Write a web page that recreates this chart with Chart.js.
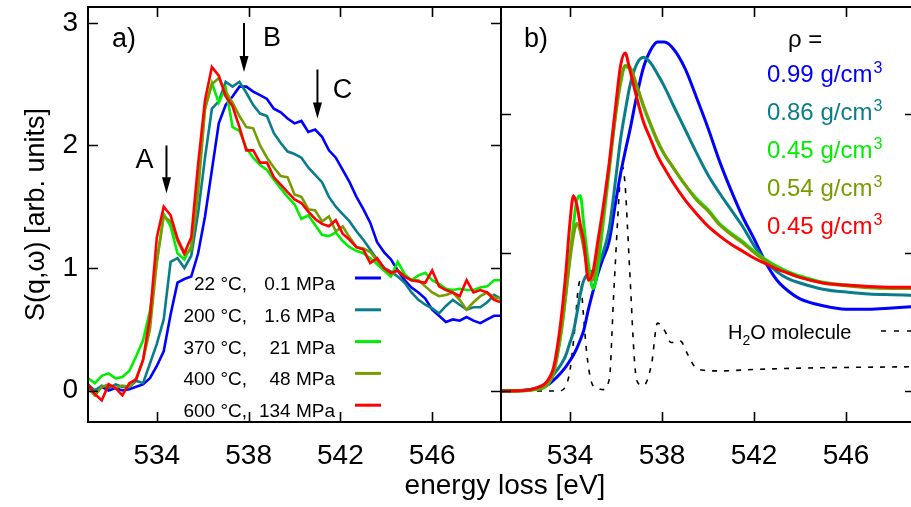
<!DOCTYPE html>
<html>
<head>
<meta charset="utf-8">
<script src="https://cdn.jsdelivr.net/npm/chart.js@4.4.1/dist/chart.umd.min.js"></script>
<style>
  html, body { margin: 0; padding: 0; background: #fff; overflow: hidden; }
  #wrap { position: relative; width: 911px; height: 507px; overflow: hidden; }
  #chartA { position: absolute; left: 0; top: 0; width: 911px; height: 507px; }
  #chartB { position: absolute; left: 501px; top: 0; width: 414px; height: 507px; }
</style>
</head>
<body>
<div id="wrap">
  <canvas id="chartA" width="911" height="507"></canvas>
  <canvas id="chartB" width="414" height="507"></canvas>
</div>
<script>
// 1. a) 측정 스펙트럼 (에너지 손실, eV)
const energyA = [
    531.0, 531.3, 531.6, 531.9, 532.2, 532.5, 532.8, 533.1, 533.4, 533.7,
    534.0, 534.3, 534.6, 534.9, 535.2, 535.5, 535.8, 536.1, 536.4, 536.7,
    537.0, 537.3, 537.6, 537.9, 538.2, 538.5, 538.8, 539.1, 539.4, 539.7,
    540.0, 540.3, 540.6, 540.9, 541.2, 541.5, 541.8, 542.1, 542.4, 542.7,
    543.0, 543.3, 543.6, 543.9, 544.2, 544.5, 544.8, 545.1, 545.4, 545.7,
    546.0, 546.3, 546.6, 546.9, 547.2, 547.5, 547.8, 548.1, 548.4, 548.7,
    549.0
];
const meas22 = [
    0.02, 0.00, 0.03, 0.00, 0.02, 0.00, 0.01, 0.03, 0.05, 0.10,
    0.20, 0.32, 0.62, 0.88, 0.91, 0.93, 1.12, 1.42, 1.80, 2.18,
    2.33, 2.40, 2.48, 2.48, 2.44, 2.41, 2.38, 2.30, 2.27, 2.22,
    2.18, 2.20, 2.11, 2.13, 2.07, 1.96, 1.90, 1.80, 1.70, 1.58,
    1.48, 1.37, 1.21, 1.13, 1.07, 0.98, 0.90, 0.84, 0.80, 0.75,
    0.66, 0.61, 0.56, 0.58, 0.57, 0.60, 0.57, 0.55, 0.58, 0.61,
    0.61
];
const meas200 = [
    0.05, 0.00, 0.04, 0.02, 0.05, 0.03, 0.03, 0.08, 0.06, 0.22,
    0.38, 0.58, 1.05, 1.08, 1.00, 1.10, 1.45, 1.90, 2.30, 2.36,
    2.52, 2.48, 2.52, 2.43, 2.33, 2.26, 2.24, 2.10, 2.02, 1.95,
    1.93, 1.90, 1.82, 1.76, 1.70, 1.58, 1.50, 1.44, 1.38, 1.30,
    1.23, 1.15, 1.07, 1.00, 0.97, 0.93, 0.88, 0.80, 0.74, 0.70,
    0.67, 0.63, 0.69, 0.74, 0.70, 0.66, 0.68, 0.68, 0.72, 0.78,
    0.75
];
const meas370 = [
    0.10, 0.06, 0.12, 0.14, 0.10, 0.11, 0.16, 0.28, 0.41, 0.65,
    1.05, 1.44, 1.34, 1.12, 1.07, 1.18, 1.70, 2.30, 2.51, 2.35,
    2.47, 2.15, 2.12, 1.98, 1.90, 1.84, 1.80, 1.72, 1.65, 1.58,
    1.52, 1.40, 1.43, 1.35, 1.27, 1.26, 1.29, 1.22, 1.17, 1.14,
    1.12, 1.08, 1.03, 0.98, 0.93, 1.05, 0.95, 0.90, 0.94, 0.96,
    0.90, 0.87, 0.83, 0.82, 0.83, 0.82, 0.82, 0.84, 0.85, 0.90,
    0.90
];
const meas400 = [
    0.02, -0.04, 0.03, 0.05, 0.02, 0.04, 0.03, 0.10, 0.25, 0.50,
    1.05, 1.42, 1.38, 1.22, 1.11, 1.15, 1.62, 2.30, 2.50, 2.55,
    2.44, 2.35, 2.24, 2.15, 2.14, 2.00, 1.90, 1.82, 1.75, 1.74,
    1.60, 1.58, 1.48, 1.47, 1.38, 1.42, 1.30, 1.34, 1.25, 1.17,
    1.16, 1.13, 1.06, 1.00, 0.95, 0.98, 0.93, 0.90, 0.90, 0.85,
    0.80, 0.77, 0.78, 0.80, 0.74, 0.66, 0.72, 0.77, 0.80, 0.76,
    0.75
];
const meas600 = [
    0.05, -0.03, -0.08, 0.05, 0.02, -0.04, 0.06, 0.09, 0.25, 0.60,
    1.25, 1.50, 1.43, 1.24, 1.12, 1.25, 1.85, 2.37, 2.64, 2.57,
    2.40, 2.32, 2.15, 1.96, 1.96, 1.86, 1.86, 1.74, 1.68, 1.62,
    1.56, 1.53, 1.46, 1.40, 1.36, 1.34, 1.39, 1.28, 1.23, 1.17,
    1.15, 1.04, 1.08, 1.00, 0.96, 0.98, 0.93, 0.90, 0.89, 0.88,
    0.98, 0.85, 0.82, 0.80, 0.77, 0.90, 0.80, 0.82, 0.80, 0.74,
    0.72
];
const tempLabels = ["22 °C,", "200 °C,", "370 °C,", "400 °C,", "600 °C,"];
const pressureLabels = ["0.1 MPa", "1.6 MPa", "21 MPa", "48 MPa", "134 MPa"];

// 2. b) 계산 스펙트럼
const energyB = [
    531.0, 532.0, 532.5, 533.0, 533.3, 533.6, 533.8, 534.0, 534.15, 534.3,
    534.45, 534.6, 534.8, 535.0, 535.2, 535.4, 535.7, 536.0, 536.2, 536.4,
    536.6, 536.9, 537.2, 537.5, 537.8, 538.1, 538.5, 539.0, 539.5, 540.0,
    540.5, 541.0, 541.5, 542.0, 542.5, 543.0, 543.5, 544.0, 545.0, 546.0,
    547.0, 548.0, 549.0
];
const calc099 = [
    0, 0.005, 0.015, 0.04, 0.08, 0.13, 0.17, 0.22, 0.26, 0.31,
    0.37, 0.44, 0.59, 0.72, 0.84, 0.94, 1.08, 1.38, 1.57, 1.73,
    1.88, 2.13, 2.34, 2.46, 2.52, 2.52, 2.47, 2.33, 2.12, 1.90,
    1.66, 1.45, 1.26, 1.10, 0.93, 0.80, 0.72, 0.665, 0.615, 0.59,
    0.59, 0.60, 0.61
];
const calc086 = [
    0, 0.005, 0.02, 0.06, 0.12, 0.19, 0.25, 0.35, 0.43, 0.56,
    0.70, 0.80, 0.85, 0.87, 0.91, 0.98, 1.17, 1.55, 1.82, 2.02,
    2.20, 2.36, 2.41, 2.37, 2.29, 2.20, 2.06, 1.89, 1.72, 1.56,
    1.43, 1.31, 1.19, 1.05, 0.94, 0.86, 0.81, 0.78, 0.735, 0.715,
    0.70, 0.695, 0.69
];
const calc045g = [
    0, 0.002, 0.01, 0.04, 0.14, 0.40, 0.66, 0.98, 1.20, 1.38,
    1.41, 1.20, 0.92, 0.74, 0.87, 1.15, 1.58, 2.01, 2.22, 2.34,
    2.33, 2.20, 2.05, 1.92, 1.80, 1.71, 1.61, 1.49, 1.39, 1.31,
    1.21, 1.14, 1.08, 1.01, 0.95, 0.90, 0.86, 0.83, 0.785, 0.765,
    0.75, 0.745, 0.74
];
const calc054 = [
    0, 0.002, 0.012, 0.045, 0.14, 0.42, 0.68, 0.95, 1.12, 1.21,
    1.15, 1.03, 0.85, 0.80, 0.96, 1.22, 1.62, 2.02, 2.24, 2.35,
    2.34, 2.21, 2.06, 1.93, 1.81, 1.71, 1.61, 1.49, 1.38, 1.30,
    1.20, 1.13, 1.07, 1.00, 0.94, 0.89, 0.85, 0.82, 0.78, 0.76,
    0.745, 0.74, 0.74
];
const calc045r = [
    0, 0.003, 0.02, 0.07, 0.18, 0.50, 0.82, 1.22, 1.41, 1.34,
    1.20, 1.08, 0.80, 0.86, 1.07, 1.28, 1.64, 2.08, 2.35, 2.44,
    2.32, 2.12, 1.94, 1.82, 1.70, 1.61, 1.50, 1.38, 1.28, 1.19,
    1.12, 1.06, 1.01, 0.96, 0.92, 0.88, 0.85, 0.82, 0.78, 0.765,
    0.755, 0.75, 0.75
];
const energyH2O = [
    531.0, 533.5, 533.8, 534.0, 534.2, 534.35, 534.45, 534.57, 534.73, 534.94,
    535.2, 535.45, 535.65, 535.75, 535.82, 535.9, 535.98, 536.06, 536.16, 536.28,
    536.4, 536.5, 536.58, 536.66, 536.74, 536.85, 537.0, 537.2, 537.55, 537.8,
    538.1, 538.4, 538.8, 539.1, 539.4, 539.8, 540.5, 542.0, 544.0, 546.0,
    549.0
];
const h2oMolecule = [
    0, 0, 0.03, 0.15, 0.44, 0.73, 0.80, 0.58, 0.27, 0.06,
    0.02, 0.01, 0.05, 0.15, 0.40, 0.70, 0.95, 1.20, 1.48, 1.62,
    1.48, 1.18, 0.92, 0.66, 0.39, 0.13, 0.05, 0.04, 0.20, 0.49,
    0.44, 0.35, 0.36, 0.27, 0.18, 0.15, 0.145, 0.155, 0.165, 0.17,
    0.175
];
const densityLabels = ["0.99", "0.86", "0.45", "0.54", "0.45"];

// 3. 눈금
const xTicks = [534, 538, 542, 546];
const yTicksA = [0, 1, 2, 3];
const yTicksB = [0, 1, 2];

const colors = ["#0000ff", "#0a7d8c", "#00ee00", "#789c00", "#ff0000"];
const FONT = "'Liberation Sans', Arial, sans-serif";
Chart.defaults.font.family = FONT;
Chart.defaults.color = "#000";

// A, B, C 화살표 (에너지, 화살표 위/끝 y값)
const arrowMarks = [
    {label: "A", e: 534.42, from: 2.0, to: 1.61, dx: -22, dy: 15},
    {label: "B", e: 537.8, from: 3.0, to: 2.6, dx: 28, dy: 16},
    {label: "C", e: 541.0, from: 2.62, to: 2.22, dx: 25, dy: 21},
];

function toPoints(xs, ys) { // xs, ys: 배열 --> {x, y} 배열
    return xs.map((x, i) => ({x: x, y: ys[i]}));
}

function lineSet(label, xs, ys, color, order, width) {
    return {
        label: label, data: toPoints(xs, ys),
        borderColor: color, borderWidth: width,
        pointRadius: 0, fill: false, order: order,
    };
}

// 테두리 + 안쪽 눈금
const framePlugin = {
    id: "frame",
    afterDatasetsDraw(chart, args, opts) {
        const {ctx, chartArea: a, scales} = chart;
        ctx.save();
        ctx.strokeStyle = "#000";
        ctx.lineWidth = 2;
        ctx.strokeRect(a.left, a.top, a.right - a.left, a.bottom - a.top);
        ctx.lineWidth = 1.6;
        ctx.beginPath();
        for (const v of xTicks) {
            const px = Math.round(scales.x.getPixelForValue(v)) + 0.5;
            ctx.moveTo(px, a.bottom); ctx.lineTo(px, a.bottom - 10);
            ctx.moveTo(px, a.top); ctx.lineTo(px, a.top + 10);
        }
        for (const v of opts.yTicks) {
            const py = Math.round(scales.y.getPixelForValue(v)) + 0.5;
            ctx.moveTo(a.left, py); ctx.lineTo(a.left + 10, py);
            ctx.moveTo(a.right, py); ctx.lineTo(a.right - 10, py);
        }
        ctx.stroke();
        ctx.restore();
    }
};

function drawArrow(ctx, x, y0, y1) { // 아래 방향 화살표
    ctx.beginPath();
    ctx.moveTo(x, y0); ctx.lineTo(x, y1 - 14);
    ctx.stroke();
    ctx.beginPath();
    ctx.moveTo(x - 4.5, y1 - 16); ctx.lineTo(x + 4.5, y1 - 16); ctx.lineTo(x, y1);
    ctx.closePath();
    ctx.fill();
}

const notesA = {
    id: "notesA",
    afterDatasetsDraw(chart) {
        const {ctx, scales: {x, y}} = chart;
        ctx.save();
        ctx.fillStyle = "#000";
        ctx.strokeStyle = "#000";
        ctx.textBaseline = "middle";
        ctx.font = "27px " + FONT;
        ctx.fillText("a)", 112, 40);
        ctx.lineWidth = 2;
        arrowMarks.forEach(m => {
            const px = x.getPixelForValue(m.e);
            const top = y.getPixelForValue(m.from);
            drawArrow(ctx, px, top, y.getPixelForValue(m.to));
            ctx.textAlign = "center";
            ctx.fillText(m.label, px + m.dx, top + m.dy);
        });
        // 범례
        ctx.font = "19px " + FONT;
        ctx.textBaseline = "alphabetic";
        ctx.textAlign = "right";
        ctx.lineWidth = 3;
        tempLabels.forEach((t, i) => {
            const base = 290 + i * 31.8;
            ctx.fillStyle = "#000";
            ctx.fillText(t, 247, base);
            ctx.fillText(pressureLabels[i], 335, base);
            ctx.strokeStyle = colors[i];
            ctx.beginPath();
            ctx.moveTo(355, base - 12); ctx.lineTo(381, base - 12);
            ctx.stroke();
        });
        // 공통 x축 제목
        ctx.fillStyle = "#000";
        ctx.font = "28px " + FONT;
        ctx.textAlign = "center";
        ctx.textBaseline = "middle";
        ctx.fillText("energy loss [eV]", 505, 486);
        ctx.restore();
    }
};

const notesB = {
    id: "notesB",
    afterDatasetsDraw(chart) {
        const ctx = chart.ctx;
        ctx.save();
        ctx.fillStyle = "#000";
        ctx.textBaseline = "middle";
        ctx.font = "27px " + FONT;
        ctx.fillText("b)", 23, 40);
        ctx.font = "24px " + FONT;
        ctx.fillText("ρ =", 287, 40);
        ctx.textBaseline = "alphabetic";
        densityLabels.forEach((d, i) => {
            const base = 81.5 + i * 38.1;
            ctx.fillStyle = colors[i];
            ctx.font = "24px " + FONT;
            const text = d + " g/cm";
            ctx.fillText(text, 266, base);
            const w = ctx.measureText(text).width;
            ctx.font = "16px " + FONT;
            ctx.fillText("3", 266 + w + 1, base - 9);
        });
        // H2O molecule 범례
        ctx.fillStyle = "#000";
        ctx.font = "20px " + FONT;
        ctx.fillText("H", 227, 339);
        let xx = 227 + ctx.measureText("H").width;
        ctx.font = "14px " + FONT;
        ctx.fillText("2", xx, 345);
        xx += ctx.measureText("2").width;
        ctx.font = "20px " + FONT;
        ctx.fillText("O molecule", xx, 339);
        ctx.strokeStyle = "#000";
        ctx.lineWidth = 1.6;
        ctx.setLineDash([5, 8]);
        ctx.beginPath();
        ctx.moveTo(380, 331); ctx.lineTo(414, 331);
        ctx.stroke();
        ctx.restore();
    }
};

function xScale() {
    return {
        type: "linear", min: 531, max: 549,
        grid: {display: false, drawTicks: false}, border: {display: false},
        afterBuildTicks: s => { s.ticks = xTicks.map(v => ({value: v})); },
        afterFit: s => { s.height = 85; s.paddingLeft = 0; s.paddingRight = 0; },
        ticks: {font: {size: 28}, padding: 17, maxRotation: 0, autoSkip: false},
    };
}

// 4. a) 측정 그래프
new Chart(document.getElementById("chartA"), {
    type: "line",
    data: {
        datasets: [
            lineSet("22 °C, 0.1 MPa", energyA, meas22, colors[0], 4, 2.6),
            lineSet("200 °C, 1.6 MPa", energyA, meas200, colors[1], 3, 2.6),
            lineSet("370 °C, 21 MPa", energyA, meas370, colors[2], 2, 2.6),
            lineSet("400 °C, 48 MPa", energyA, meas400, colors[3], 1, 2.6),
            lineSet("600 °C, 134 MPa", energyA, meas600, colors[4], 0, 2.6),
        ],
    },
    options: {
        responsive: false, animation: false,
        layout: {padding: {top: 7, right: 410, bottom: 0, left: 0}},
        plugins: {legend: {display: false}, tooltip: {enabled: false}, frame: {yTicks: yTicksA}},
        scales: {
            x: xScale(),
            y: {
                type: "linear", min: -0.257, max: 3.13,
                grid: {display: false, drawTicks: false}, border: {display: false},
                afterBuildTicks: s => { s.ticks = yTicksA.map(v => ({value: v})); },
                afterFit: s => { s.width = 88; s.paddingTop = 0; s.paddingBottom = 0; },
                ticks: {font: {size: 28}, padding: 10},
                title: {display: true, text: "S(q,ω) [arb. units]", font: {size: 27}, padding: {top: 20, bottom: 0}},
            },
        },
    },
    plugins: [framePlugin, notesA],
});

// 5. b) 계산 그래프
const smooth = {cubicInterpolationMode: "monotone"};
new Chart(document.getElementById("chartB"), {
    type: "line",
    data: {
        datasets: [
            Object.assign(lineSet("0.99 g/cm3", energyB, calc099, colors[0], 4, 3), smooth),
            Object.assign(lineSet("0.86 g/cm3", energyB, calc086, colors[1], 3, 3), smooth),
            Object.assign(lineSet("0.45 g/cm3", energyB, calc045g, colors[2], 2, 3), smooth),
            Object.assign(lineSet("0.54 g/cm3", energyB, calc054, colors[3], 1, 3), smooth),
            Object.assign(lineSet("0.45 g/cm3", energyB, calc045r, colors[4], 0, 3), smooth),
            Object.assign(lineSet("H2O molecule", energyH2O, h2oMolecule, "#000", 5, 1.6),
                smooth, {borderDash: [5, 7]}),
        ],
    },
    options: {
        responsive: false, animation: false,
        layout: {padding: {top: 7, right: 0, bottom: 0, left: 0}},
        plugins: {legend: {display: false}, tooltip: {enabled: false}, frame: {yTicks: yTicksB}},
        scales: {
            x: xScale(),
            y: {type: "linear", min: -0.224, max: 2.773, display: false},
        },
    },
    plugins: [framePlugin, notesB],
});
</script>
</body>
</html>
